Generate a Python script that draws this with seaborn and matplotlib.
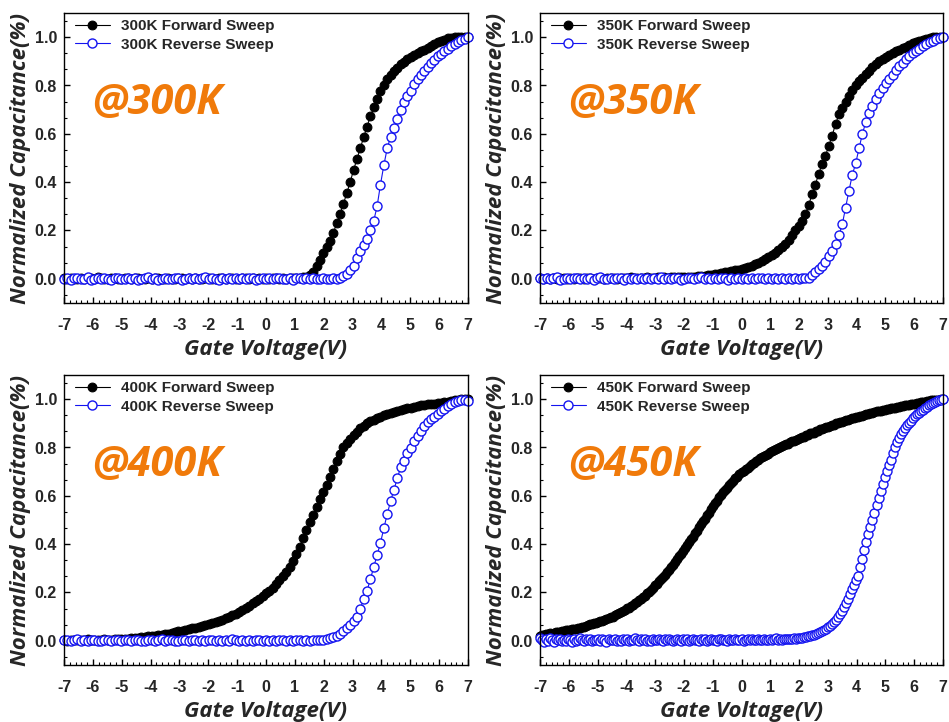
import numpy as np
import pandas as pd
import matplotlib.pyplot as plt
import seaborn as sns
from matplotlib.ticker import MultipleLocator, AutoMinorLocator, FormatStrFormatter

# Normalized C-V sweeps, gate voltage swept from -7 V to 7 V
v_min, v_max = -7.0, 7.0
temps = ['300K', '350K', '400K', '450K']

fwd_300 = [
    0.002, 0.0, 0.004, 0.001, -0.002, 0.003, 0.0, 0.005, 0.002, 0.0,
    0.006, 0.003, 0.0, -0.001, 0.002, 0.004, 0.001, 0.0, 0.003, 0.002,
    0.0, 0.004, 0.002, -0.002, 0.001, 0.003, 0.0, 0.002, 0.005, 0.001,
    0.0, 0.003, 0.001, -0.001, 0.002, 0.004, 0.0, 0.002, 0.001, 0.003,
    0.0, -0.002, 0.002, 0.004, 0.001, 0.0, 0.003, 0.002, -0.001, 0.002,
    0.004, 0.001, 0.0, 0.003, 0.002, 0.0, 0.004, 0.001, 0.002, 0.0,
    0.003, 0.001, 0.004, 0.002, 0.0, 0.003, 0.001, 0.002, 0.004, 0.003,
    0.004, 0.006,
    0.008, 0.015, 0.03, 0.055, 0.08, 0.105, 0.13, 0.155, 0.19, 0.23,
    0.27, 0.31, 0.355, 0.4, 0.45, 0.495, 0.54, 0.585, 0.63, 0.672,
    0.71, 0.745, 0.778, 0.803, 0.825, 0.843, 0.86, 0.873, 0.887, 0.898,
    0.908, 0.917, 0.926, 0.934, 0.941, 0.948, 0.956, 0.964, 0.972, 0.978,
    0.984, 0.99, 0.995, 0.998, 1.0, 1.0, 1.0, 1.0, 1.0]
rev_300 = [
    0.0, 0.004, -0.003, 0.002, 0.005, -0.002, 0.001, 0.006, -0.004, 0.0,
    0.003, -0.002, 0.004, 0.001, -0.003, 0.002, 0.005, 0.0, -0.002, 0.003,
    0.001, 0.004, -0.003, 0.0, 0.002, 0.006, -0.001, 0.003, -0.004, 0.001,
    0.004, 0.0, -0.002, 0.005, 0.002, -0.003, 0.001, 0.003, 0.0, 0.004,
    -0.002, 0.002, 0.006, -0.001, 0.003, 0.0, -0.003, 0.004, 0.001, 0.002,
    -0.002, 0.005, 0.0, 0.003, -0.001, 0.002, 0.004, -0.003, 0.001, 0.003,
    0.0, 0.005, -0.002, 0.002, 0.004, -0.001, 0.001, 0.003, -0.003, 0.002,
    0.004, 0.0, 0.002, -0.002, 0.003, 0.001, 0.0, 0.002, -0.001, 0.001,
    0.002, 0.0,
    0.005, 0.01, 0.02, 0.035, 0.055, 0.085, 0.115, 0.14, 0.165, 0.2,
    0.24, 0.3, 0.39, 0.47, 0.54, 0.587, 0.623, 0.66, 0.7, 0.731,
    0.758, 0.779, 0.806, 0.825, 0.843, 0.861, 0.877, 0.892, 0.906, 0.92,
    0.931, 0.942, 0.951, 0.962, 0.972, 0.98, 0.987, 0.994, 1.0]

fwd_350 = [
    0.002, 0.0, 0.004, 0.001, 0.003, -0.001, 0.002, 0.005, 0.0, 0.003,
    0.001, 0.004, 0.002, 0.0, 0.003, 0.005, 0.001, 0.002, 0.004, 0.0,
    0.003, 0.002, 0.005, 0.001, 0.004, 0.003, 0.002, 0.006, 0.003, 0.004,
    0.005, 0.003, 0.006, 0.004, 0.005, 0.007, 0.004, 0.006, 0.005, 0.007,
    0.006, 0.008, 0.006, 0.007, 0.009, 0.008, 0.009, 0.01,
    0.01, 0.012, 0.015, 0.017, 0.02, 0.022, 0.025, 0.027, 0.03, 0.032,
    0.035, 0.037, 0.04, 0.044, 0.048, 0.054, 0.06, 0.067, 0.075, 0.082,
    0.09, 0.099, 0.108, 0.118, 0.13, 0.145, 0.16, 0.18, 0.2, 0.22,
    0.24, 0.268, 0.305, 0.35, 0.39, 0.435, 0.475, 0.51, 0.55, 0.593,
    0.64, 0.68, 0.705, 0.73, 0.755, 0.78, 0.8, 0.818, 0.833, 0.848,
    0.862, 0.875, 0.888, 0.9, 0.91, 0.918, 0.927, 0.934, 0.941, 0.948,
    0.955, 0.961, 0.968, 0.974, 0.979, 0.984, 0.989, 0.993, 0.997, 1.0,
    1.0, 1.0, 1.0]
rev_350 = [
    0.003, -0.002, 0.005, 0.0, 0.002, 0.006, -0.003, 0.001, 0.004, -0.001,
    0.002, 0.005, -0.002, 0.003, 0.0, 0.004, -0.003, 0.002, 0.006, 0.001,
    -0.002, 0.003, 0.0, 0.005, 0.002, -0.003, 0.004, 0.001, 0.003, -0.001,
    0.005, 0.0, 0.002, -0.002, 0.004, 0.001, 0.006, -0.001, 0.003, 0.0,
    0.002, 0.005, -0.003, 0.001, 0.004, 0.002, -0.001, 0.003, 0.006, 0.0,
    0.002, -0.002, 0.004, 0.001, 0.003, 0.005, -0.003, 0.002, 0.0, 0.004,
    0.001, 0.003, -0.002, 0.005, 0.0, 0.002, 0.004, -0.001, 0.003, 0.001,
    0.005, -0.002, 0.002, 0.0, 0.004, 0.001, 0.003, -0.001, 0.002, 0.003,
    0.005, 0.015, 0.028, 0.04, 0.052, 0.07, 0.095, 0.115, 0.145, 0.18,
    0.225, 0.295, 0.365, 0.43, 0.478, 0.54, 0.6, 0.648, 0.685, 0.715,
    0.745, 0.77, 0.79, 0.81, 0.828, 0.845, 0.863, 0.88, 0.895, 0.908,
    0.921, 0.933, 0.944, 0.953, 0.962, 0.97, 0.978, 0.985, 0.991, 0.996,
    1.0]

fwd_400 = [
    0.003, 0.001, 0.004, 0.002, 0.005, 0.003, 0.002, 0.006, 0.004, 0.003,
    0.005, 0.004, 0.006, 0.005, 0.004, 0.007, 0.006, 0.007,
    0.008, 0.009, 0.01, 0.012, 0.013, 0.015, 0.016, 0.018, 0.02, 0.022,
    0.024, 0.026, 0.028, 0.03, 0.033, 0.036, 0.04, 0.042, 0.045, 0.048,
    0.052, 0.055, 0.058, 0.062, 0.065, 0.068, 0.072, 0.077, 0.082, 0.087,
    0.093, 0.099, 0.105, 0.111, 0.118, 0.126, 0.135, 0.145, 0.155, 0.165,
    0.175, 0.186, 0.197, 0.208, 0.22, 0.235, 0.25, 0.267, 0.285, 0.307,
    0.33, 0.36, 0.39, 0.425, 0.46, 0.49, 0.52, 0.553, 0.585, 0.615,
    0.645, 0.678, 0.71, 0.745, 0.775, 0.8, 0.82, 0.837, 0.852, 0.866,
    0.879, 0.89, 0.9, 0.908, 0.915, 0.922, 0.928, 0.934, 0.94, 0.944,
    0.948, 0.952, 0.955, 0.958, 0.962, 0.965, 0.968, 0.971, 0.974, 0.976,
    0.978, 0.98, 0.982, 0.984, 0.986, 0.988, 0.99, 0.992, 0.995, 0.998,
    1.0, 1.0, 1.0]
rev_400 = [
    0.002, 0.005, -0.002, 0.003, 0.006, 0.0, 0.004, -0.001, 0.002, 0.005,
    0.001, -0.002, 0.004, 0.002, 0.0, 0.005, 0.003, -0.001, 0.002, 0.004,
    0.0, 0.003, 0.005, -0.002, 0.001, 0.004, 0.002, 0.0, 0.003, 0.006,
    -0.001, 0.002, 0.004, 0.001, -0.002, 0.003, 0.005, 0.0, 0.002, 0.004,
    -0.001, 0.003, 0.001, 0.005, 0.002, -0.002, 0.004, 0.0, 0.003, 0.001,
    0.006, 0.002, -0.001, 0.004, 0.001, 0.003, 0.0, 0.005, 0.002, -0.002,
    0.003, 0.001, 0.004, 0.0, 0.002, 0.005, -0.001, 0.003, 0.001, 0.002,
    0.004, 0.0, 0.003, 0.001, 0.002, 0.004, 0.002, 0.005, 0.007,
    0.01, 0.015, 0.022, 0.03, 0.04, 0.052, 0.066, 0.082, 0.1, 0.13,
    0.175, 0.208, 0.254, 0.306, 0.355, 0.405, 0.466, 0.524, 0.578, 0.625,
    0.673, 0.718, 0.744, 0.778, 0.799, 0.825, 0.847, 0.869, 0.889, 0.905,
    0.916, 0.927, 0.938, 0.949, 0.96, 0.971, 0.98, 0.987, 0.993, 0.997,
    0.997, 0.993]

fwd_450 = [
    0.022, 0.025, 0.024, 0.028, 0.027, 0.031, 0.03, 0.034, 0.035, 0.037,
    0.038, 0.04, 0.04, 0.043, 0.044, 0.046, 0.047, 0.05, 0.051, 0.054,
    0.055, 0.058, 0.059, 0.063, 0.064, 0.068, 0.069, 0.073, 0.075, 0.078,
    0.08, 0.084, 0.086, 0.091, 0.093, 0.098, 0.1, 0.106, 0.109, 0.115,
    0.118, 0.124, 0.127, 0.134, 0.137, 0.144, 0.148, 0.156, 0.159, 0.167,
    0.172, 0.181, 0.186, 0.196, 0.201, 0.211, 0.218, 0.229, 0.236, 0.247,
    0.255, 0.266, 0.274, 0.286, 0.294, 0.306, 0.315, 0.328, 0.337, 0.35,
    0.36, 0.373, 0.383, 0.397, 0.407, 0.421, 0.431, 0.446, 0.456, 0.471,
    0.482, 0.496, 0.506, 0.521, 0.531, 0.546, 0.556, 0.57, 0.58, 0.594,
    0.605, 0.614, 0.626, 0.634, 0.646, 0.655, 0.662, 0.673, 0.679, 0.69,
    0.697, 0.703, 0.711, 0.716, 0.724, 0.73, 0.735, 0.743, 0.747, 0.755,
    0.76, 0.764, 0.771, 0.774, 0.781, 0.785, 0.788, 0.794, 0.797, 0.803,
    0.806, 0.809, 0.815, 0.816, 0.822, 0.825, 0.828, 0.833, 0.835, 0.84,
    0.843, 0.845, 0.851, 0.852, 0.858, 0.86, 0.862, 0.868, 0.869, 0.875,
    0.877, 0.879, 0.884, 0.886, 0.891, 0.893, 0.895, 0.9, 0.9, 0.905,
    0.907, 0.909, 0.913, 0.914, 0.918, 0.92, 0.921, 0.926, 0.926, 0.931,
    0.932, 0.933, 0.938, 0.938, 0.943, 0.944, 0.945, 0.949, 0.949, 0.953,
    0.954, 0.955, 0.959, 0.959, 0.963, 0.964, 0.965, 0.969, 0.968, 0.972,
    0.973, 0.974, 0.977, 0.977, 0.98, 0.981, 0.981, 0.985, 0.984, 0.988,
    0.988, 0.988, 0.992, 0.991, 0.995, 0.995, 0.995, 0.998, 0.997, 1.0,
    1.0]
rev_450 = [
    0.012, 0.004, -0.003, 0.008, 0.0, 0.01, 0.003, -0.004, 0.006, 0.002,
    0.009, -0.002, 0.005, 0.001, 0.008, 0.003, -0.003, 0.007, 0.0, 0.004,
    0.01, 0.002, -0.002, 0.006, 0.003, 0.008, -0.001, 0.005, 0.002, 0.009,
    0.0, 0.006, 0.003, -0.003, 0.007, 0.002, 0.005, 0.009, 0.001, 0.004,
    -0.002, 0.006, 0.003, 0.008, 0.0, 0.005, 0.002, 0.01, 0.004, -0.001,
    0.006, 0.003, 0.008, 0.001, 0.005, -0.002, 0.007, 0.004, 0.002, 0.009,
    0.003, 0.0, 0.006, 0.004, 0.008, 0.002, -0.002, 0.005, 0.007, 0.003,
    0.001, 0.008, 0.004, 0.006, 0.0, 0.005, 0.009, 0.002, 0.004, -0.001,
    0.006, 0.003, 0.007, 0.001, 0.005, 0.008, 0.002, 0.004, 0.0, 0.006,
    0.009, 0.003, 0.005, 0.001, 0.007, 0.004, 0.002, 0.008, 0.005, 0.003,
    0.006, 0.0, 0.004, 0.008, 0.002, 0.006, 0.003, 0.005, 0.009, 0.004,
    0.002, 0.007, 0.005, 0.003, 0.008, 0.004, 0.006, 0.01, 0.005, 0.007,
    0.004, 0.008, 0.006, 0.009, 0.007, 0.008, 0.01, 0.009,
    0.011, 0.012, 0.013, 0.015, 0.016, 0.018, 0.021, 0.023, 0.026, 0.029,
    0.032, 0.037, 0.041, 0.045, 0.051, 0.057, 0.062, 0.07, 0.078, 0.087,
    0.098, 0.109, 0.123, 0.139, 0.156, 0.175, 0.195, 0.215, 0.233, 0.252,
    0.27, 0.305, 0.34, 0.375, 0.41, 0.444, 0.47, 0.5, 0.53, 0.562,
    0.593, 0.622, 0.651, 0.678, 0.703, 0.727, 0.75, 0.777, 0.802, 0.822,
    0.84, 0.855, 0.867, 0.88, 0.892, 0.902, 0.911, 0.92, 0.929, 0.937,
    0.944, 0.95, 0.957, 0.963, 0.969, 0.975, 0.98, 0.985, 0.989, 0.993,
    0.996, 0.998, 1.0]

forward = [fwd_300, fwd_350, fwd_400, fwd_450]
reverse = [rev_300, rev_350, rev_400, rev_450]

sns.set_style("white")
plt.rcParams['font.family'] = ['Liberation Sans', 'DejaVu Sans']
plt.rcParams['axes.unicode_minus'] = False

fig = plt.figure(figsize=(9.49, 7.22), dpi=100)
W, H = 949, 722
# panel frames in pixels: left, top, right, bottom
frames = [(64, 13, 468, 303), (540, 13, 943, 303),
          (64, 375, 468, 665), (540, 375, 943, 665)]

label_font = dict(family='Open Sans', weight='bold', style='italic', size=16)
tick_font = dict(family='Liberation Sans', weight='bold', size=11.5)
leg_font = dict(family='Liberation Sans', weight='bold', size=11)

for k, temp in enumerate(temps):
    l, t, r, b = frames[k]
    ax = fig.add_axes([l / W, 1 - b / H, (r - l) / W, (b - t) / H])

    fdf = pd.DataFrame({'V': np.linspace(v_min, v_max, len(forward[k])), 'C': forward[k]})
    rdf = pd.DataFrame({'V': np.linspace(v_min, v_max, len(reverse[k])), 'C': reverse[k]})

    sns.lineplot(data=fdf, x='V', y='C', ax=ax, color='black', linewidth=0.8,
                 marker='o', markersize=6.3, markerfacecolor='black',
                 markeredgecolor='black', markeredgewidth=0.8,
                 label=f'{temp} Forward Sweep', legend=False, clip_on=False)
    sns.lineplot(data=rdf, x='V', y='C', ax=ax, color='#1414F0', linewidth=0.8,
                 marker='o', markersize=6.5, markerfacecolor='white',
                 markeredgecolor='#1414F0', markeredgewidth=1.0,
                 label=f'{temp} Reverse Sweep', legend=False, clip_on=False)

    ax.set_xlim(v_min, v_max)
    ax.set_ylim(-0.1, 1.1)
    ax.xaxis.set_major_locator(MultipleLocator(1))
    ax.xaxis.set_minor_locator(AutoMinorLocator(5))
    ax.yaxis.set_major_locator(MultipleLocator(0.2))
    ax.yaxis.set_minor_locator(AutoMinorLocator(3))
    ax.yaxis.set_major_formatter(FormatStrFormatter('%.1f'))
    ax.xaxis.set_major_formatter(FormatStrFormatter('%d'))

    ax.tick_params(which='both', direction='in', top=False, right=False,
                   bottom=True, left=True, color='black')
    ax.tick_params(which='major', length=4, width=1)
    ax.tick_params(which='minor', length=2.2, width=0.8)
    ax.tick_params(axis='x', pad=11)
    ax.tick_params(axis='y', pad=5)
    for lab in ax.get_xticklabels() + ax.get_yticklabels():
        lab.set_fontfamily(tick_font['family'])
        lab.set_fontweight(tick_font['weight'])
        lab.set_fontsize(tick_font['size'])

    for sp in ax.spines.values():
        sp.set_visible(True)
        sp.set_color('black')
        sp.set_linewidth(1.0)

    ax.set_xlabel('Gate Voltage(V)', labelpad=4, **label_font)
    ax.set_ylabel('Normalized Capacitance(%)', labelpad=3, **label_font)

    ax.legend(loc='upper left', bbox_to_anchor=(0.027, 0.979), frameon=False,
              prop=leg_font, handlelength=2.3, handletextpad=0.7,
              labelspacing=0.3, borderpad=0, borderaxespad=0)

    ax.text(0.23, 0.688, f'@{temp}', transform=ax.transAxes, ha='center', va='center',
            color='#F07A0A', fontfamily='Open Sans', fontweight='bold',
            fontstyle='italic', fontsize=30)

plt.savefig('out.png', dpi=100, facecolor='white')
